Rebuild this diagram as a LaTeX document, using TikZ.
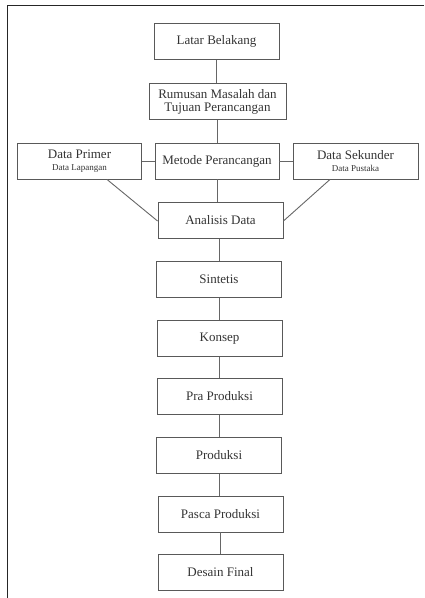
\documentclass[tikz,border=0pt]{standalone}
\usepackage{fontspec}
\setmainfont{Liberation Serif}
\begin{document}
\begin{tikzpicture}[x=1pt,y=-1pt,
  box/.style={draw=black!65,line width=0.9pt,minimum width=125pt,minimum height=36pt,inner sep=1pt,align=center,font=\fontsize{13}{15}\selectfont,text=black!80},
  conn/.style={draw=black!60,line width=0.9pt},
  frame/.style={draw=black!85,line width=1.6pt}]
\useasboundingbox (0,0) rectangle (425,598);
\coordinate (f1) at (424,5.5);
\coordinate (f2) at (7.5,5.5);
\coordinate (f3) at (7.5,598);
\draw[frame] (f1) -- (f2) -- (f3);
\node[box] (lb) at (216.5,41.5) {Latar Belakang};
\node[box,minimum width=137pt] (rm) at (217.5,101.5) {Rumusan Masalah dan\\[-2pt]Tujuan Perancangan};
\node[box,minimum width=124pt] (mp) at (217,161) {Metode Perancangan};
\node[box,minimum width=124pt] (dp) at (79.5,161) {Data Primer\\[-3pt]{\fontsize{9}{10}\selectfont Data Lapangan}};
\node[box] (ds) at (355.5,161) {Data Sekunder\\[-3pt]{\fontsize{9}{10}\selectfont Data Pustaka}};
\node[box] (ad) at (220.5,220.5) {Analisis Data};
\node[box] (si) at (219,279.5) {Sintetis};
\node[box] (ko) at (219.5,338.5) {Konsep};
\node[box] (pr) at (219.5,396.5) {Pra Produksi};
\node[box] (pd) at (219,455.5) {Produksi};
\node[box] (pa) at (220.5,514) {Pasca Produksi};
\node[box] (df) at (220.5,572.5) {Desain Final};
\draw[conn] (lb.south) -- (lb.south |- rm.north);
\draw[conn] (rm.south) -- (rm.south |- mp.north);
\draw[conn] (dp.east) -- (mp.west);
\draw[conn] (mp.east) -- (ds.east -| ds.west);
\draw[conn] (mp.south) -- (mp.south |- ad.north);
\draw[conn] ([xshift=27.5pt]dp.south) -- ([yshift=-0.5pt]ad.west);
\draw[conn] ([xshift=-25.5pt]ds.south) -- ([yshift=-0.5pt]ad.east);
\draw[conn] (ad.south -| si.north) -- (si.north);
\draw[conn] (si.south) -- (si.south |- ko.north);
\draw[conn] (ko.south) -- (ko.south |- pr.north);
\draw[conn] (pr.south) -- (pr.south |- pd.north);
\draw[conn] (pd.south) -- (pd.south |- pa.north);
\draw[conn] (pa.south -| df.north) -- (df.north);
\end{tikzpicture}
\end{document}
